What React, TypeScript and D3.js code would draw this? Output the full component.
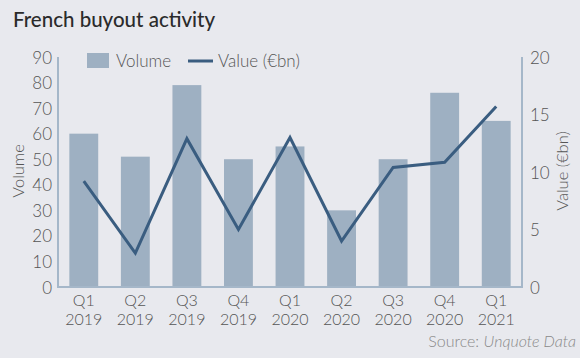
import React from "react";
import * as d3 from "d3";

const width = 580;
const height = 358;
const margin = { top: 57, right: 58, bottom: 71, left: 58 };

const quarters = ["Q1", "Q2", "Q3", "Q4", "Q1", "Q2", "Q3", "Q4", "Q1"];
const years = ["2019", "2019", "2019", "2019", "2020", "2020", "2020", "2020", "2021"];
const volume = [60, 51, 79, 50, 55, 30, 50, 76, 65];
const value = [9.2, 2.95, 12.9, 5.0, 13.0, 4.0, 10.4, 10.85, 15.7];
const volumeTicks = [0, 10, 20, 30, 40, 50, 60, 70, 80, 90];
const valueTicks = [0, 5, 10, 15, 20];

const font = "Lato, 'Open Sans', sans-serif";
const bg = "#e8e9ee";
const barColor = "#9eb0c2";
const lineColor = "#3a5d80";
const axisColor = "#a5b7c9";
const textColor = "#555";

const App = () => {
  const keys = quarters.map((q, i) => `${q} ${years[i]}`);
  const x = d3
    .scaleBand()
    .domain(keys)
    .range([margin.left, width - margin.right])
    .paddingInner(0.44)
    .paddingOuter(0.22);
  const yLeft = d3.scaleLinear().domain([0, 90]).range([height - margin.bottom, margin.top]);
  const yRight = d3.scaleLinear().domain([0, 20]).range([height - margin.bottom, margin.top]);

  const cx = (i: number) => (x(keys[i]) as number) + x.bandwidth() / 2;

  const line = d3
    .line<number>()
    .x((d, i) => cx(i))
    .y(d => yRight(d));

  const bottom = height - margin.bottom;
  const right = width - margin.right;

  return (
    <svg width={width} height={height} style={{ display: "block", position: "absolute", left: 0, top: 0 }}>
      <rect width={width} height={height} fill={bg} />
      <text x={13} y={27} fontFamily={font} fontSize={20.5} fontWeight={500} fill="#2b2b2b">
        French buyout activity
      </text>

      {/* bars */}
      {volume.map((v, i) => (
        <rect
          key={i}
          x={x(keys[i])}
          y={yLeft(v)}
          width={x.bandwidth()}
          height={bottom - yLeft(v)}
          fill={barColor}
        />
      ))}

      {/* axis lines */}
      <path
        d={`M${margin.left},${margin.top}V${bottom}H${right}V${margin.top}`}
        fill="none"
        stroke={axisColor}
        strokeWidth={2}
      />

      <path d={line(value) || ""} fill="none" stroke={lineColor} strokeWidth={3} />

      {/* left ticks */}
      {volumeTicks.map(t => (
        <text
          key={t}
          x={margin.left - 6}
          y={yLeft(t)}
          textAnchor="end"
          dominantBaseline="central"
          fontFamily={font}
          fontSize={17}
          fontWeight={300}
          fill={textColor}
        >
          {t}
        </text>
      ))}
      {valueTicks.map(t => (
        <text
          key={t}
          x={right + 8}
          y={yRight(t)}
          dominantBaseline="central"
          fontFamily={font}
          fontSize={17}
          fontWeight={300}
          fill={textColor}
        >
          {t}
        </text>
      ))}

      {/* x labels */}
      {keys.map((k, i) => (
        <g key={k}>
          <text x={cx(i)} y={306} textAnchor="middle" fontFamily={font} fontSize={16} fontWeight={300} fill={textColor}>
            {quarters[i]}
          </text>
          <text x={cx(i)} y={325} textAnchor="middle" fontFamily={font} fontSize={16} fontWeight={300} fill={textColor}>
            {years[i]}
          </text>
        </g>
      ))}

      {/* axis titles */}
      <text
        transform={`translate(24,171) rotate(-90)`}
        textAnchor="middle"
        fontFamily={font}
        fontSize={16.5}
        fontWeight={300}
        fill={textColor}
      >
        Volume
      </text>
      <text
        transform={`translate(568,171) rotate(-90)`}
        textAnchor="middle"
        fontFamily={font}
        fontSize={16.5}
        fontWeight={300}
        fill={textColor}
      >
        Value (€bn)
      </text>

      {/* legend */}
      <rect x={87} y={53} width={22} height={15} fill={barColor} />
      <text x={116} y={67} fontFamily={font} fontSize={17} fontWeight={300} fill={textColor}>
        Volume
      </text>
      <line x1={188} x2={213} y1={61} y2={61} stroke={lineColor} strokeWidth={3} />
      <text x={218} y={67} fontFamily={font} fontSize={17} fontWeight={300} fill={textColor}>
        Value (€bn)
      </text>

      <text x={576} y={347} textAnchor="end" fontFamily={font} fontSize={16} fontWeight={300} fill="#8a8a8a">
        Source: <tspan fontStyle="italic">Unquote Data</tspan>
      </text>
    </svg>
  );
};

export default App;
